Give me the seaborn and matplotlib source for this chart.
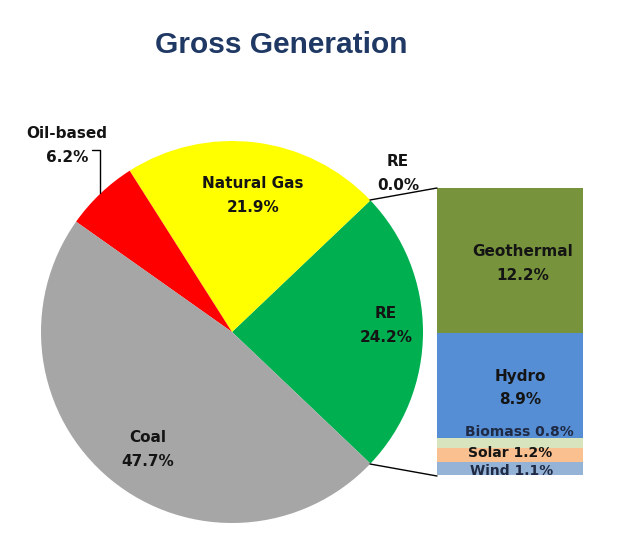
import matplotlib
matplotlib.use("Agg")
import matplotlib.pyplot as plt
import seaborn as sns

# pie data (share of gross generation, %)
pie_labels = ["RE", "Natural Gas", "Oil-based", "Coal"]
pie_values = [24.2, 21.9, 6.2, 47.7]
pie_colors = ["#00B050", "#FFFF00", "#FF0000", "#A6A6A6"]

# RE breakdown, bottom to top
re_labels = ["Wind", "Solar", "Biomass", "Hydro", "Geothermal"]
re_values = [1.1, 1.2, 0.8, 8.9, 12.2]
re_colors = ["#95B3D7", "#FAC090", "#D7E4BD", "#558ED5", "#77933C"]

sns.set_theme(style="white")
plt.rcParams["font.family"] = ["DejaVu Sans"]

W, H = 617, 554
fig = plt.figure(figsize=(W / 100, H / 100), dpi=100)
ax = fig.add_axes([0, 0, 1, 1])

def Y(y):
    return H - y

# pie, RE wedge centred on the right side
cx, cy, r = 232, Y(332), 191
start = -pie_values[0] / 100 * 360 / 2
wedges, _ = ax.pie(pie_values, colors=pie_colors, startangle=start,
                   counterclock=True, center=(cx, cy), radius=r,
                   frame=True, wedgeprops=dict(linewidth=0))

# stacked bar of RE sources
bar_x, bar_w = 510, 146
px_per_pct = 287 / sum(re_values)
bottom = Y(475)
for lab, val, col in zip(re_labels, re_values, re_colors):
    ax.bar(bar_x, val * px_per_pct, width=bar_w, bottom=bottom,
           color=col, linewidth=0)
    bottom += val * px_per_pct

# connector lines
ax.plot([370, 437], [Y(200), Y(188)], color="black", lw=1)
ax.plot([370, 437], [Y(464), Y(476)], color="black", lw=1)
ax.plot([92, 100, 100], [Y(150), Y(150), Y(193)], color="black", lw=1)

txt = "#141414"
kw = dict(ha="center", va="center", fontsize=11, fontweight="bold",
          color=txt, linespacing=1.75)
ax.text(253, Y(195), f"Natural Gas\n{pie_values[1]}%", **kw)
ax.text(386, Y(325), f"RE\n{pie_values[0]}%", **kw)
ax.text(148, Y(450), f"Coal\n{pie_values[3]}%", **kw)
ax.text(67, Y(146), f"Oil-based\n{pie_values[2]}%", **kw)
ax.text(398, Y(173), "RE\n0.0%", **kw)

ax.text(523, Y(264), f"Geothermal\n{re_values[4]}%", **kw)
ax.text(520, Y(388), f"Hydro\n{re_values[3]}%", **kw)
ax.text(519, Y(432), f"Biomass {re_values[2]}%", ha="center", va="center",
        fontsize=10, fontweight="bold", color="#1F2A44")
ax.text(510, Y(453), f"Solar {re_values[1]}%", ha="center", va="center",
        fontsize=10, fontweight="bold", color=txt)
ax.text(512, Y(471), f"Wind {re_values[0]}%", ha="center", va="center",
        fontsize=10, fontweight="bold", color="#1F2A44")

ax.text(281, Y(45), "Gross Generation", ha="center", va="center",
        fontsize=21.5, fontweight="bold", color="#1F3864",
        family=["Liberation Sans", "DejaVu Sans"])

ax.set_xlim(0, W)
ax.set_ylim(0, H)
ax.set_aspect("equal")
ax.axis("off")

fig.savefig("out.png", dpi=100, facecolor="white")
